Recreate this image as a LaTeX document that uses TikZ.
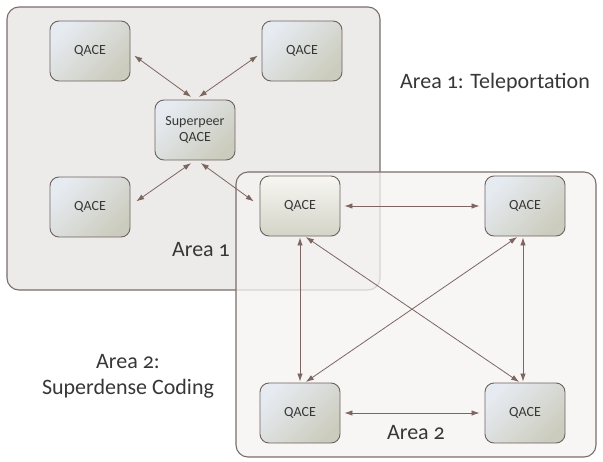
\documentclass[tikz,border=0pt]{standalone}
\usepackage{fontspec}
\setmainfont{Carlito}[Numbers=OldStyle]
\usetikzlibrary{arrows.meta,positioning}
\definecolor{arealine}{RGB}{122,110,108}
\definecolor{areaone}{RGB}{237,235,233}
\definecolor{areatwo}{RGB}{245,244,242}
\definecolor{peerline}{RGB}{110,98,96}
\definecolor{peertop}{RGB}{230,235,241}
\definecolor{peerbot}{RGB}{204,204,190}
\definecolor{peerwarm}{RGB}{248,246,242}
\definecolor{linkcol}{RGB}{125,102,96}
\definecolor{txtcol}{RGB}{55,55,55}

\begin{document}
\begin{tikzpicture}[
  x=1pt,
  y=-1pt,
  area/.style={
    draw=arealine,
    line width=1.1pt,
    rounded corners=12pt
  },
  qace/.style={
    draw=peerline,
    line width=.9pt,
    rounded corners=9pt,
    minimum width=80pt,
    minimum height=60pt,
    top color=peertop,
    bottom color=peerbot,
    shading angle=45,
    align=center,
    text=txtcol,
    font=\fontsize{14}{16}\selectfont
  },
  link/.style={
    {Latex[length=8pt,width=5.5pt]}-{Latex[length=8pt,width=5.5pt]},
    linkcol,
    line width=.8pt,
    shorten <=1pt,
    shorten >=1pt
  },
  arealabel/.style={text=txtcol,align=center,font=\fontsize{22}{26}\selectfont}
]
\useasboundingbox[fill=white] (0,0) rectangle (603,461);

% the two areas, the second one lies over the first
\draw[area,fill=areaone] (7,7) rectangle (380,290);
\draw[area,fill=areatwo,fill opacity=.75] (236,172) rectangle (596,457);

% area 1
\node[qace] (tl) at (90,51) {QACE};
\node[qace] (tr) at (302,51) {QACE};
\node[qace] (sp) at (195,130) {Superpeer\\QACE};
\node[qace] (bl) at (90,207) {QACE};

% area 2
\node[qace,top color=peerwarm,bottom color=peerbot!85] (a) at (300,206) {QACE};
\node[qace] (b) at (525,206) {QACE};
\node[qace] (c) at (300,413) {QACE};
\node[qace] (d) at (525,413) {QACE};

\node[arealabel] (areaonelbl) at (201,250) {Area 1};
\node[arealabel] (areatwolbl) at (416,433) {Area 2};
\node[arealabel] (teleport) at (495,83) {Area 1: Teleportation};
\node[arealabel] (superdense) at (128,376) {Area 2:\\Superdense Coding};

% superpeer links
\draw[link] ([xshift=3pt,yshift=-4pt]tl.east) -- ([xshift=-3pt,yshift=2pt]sp.north);
\draw[link] ([xshift=-3pt,yshift=-4pt]tr.west) -- ([xshift=3pt,yshift=2pt]sp.north);
\draw[link] ([xshift=5pt,yshift=5pt]bl.east) -- ([xshift=-3pt,yshift=-2pt]sp.south);
\draw[link] ([xshift=5pt,yshift=-2pt]sp.south) -- ([xshift=-5pt,yshift=4pt]a.west);

% full mesh of area 2
\draw[link] ([xshift=3pt]a.east) -- ([xshift=-4pt]b.west);
\draw[link] ([xshift=3pt]c.east) -- ([xshift=-4pt]d.west);
\draw[link] (a.south) -- (c.north);
\draw[link] ([xshift=-2pt]b.south) -- ([xshift=-2pt]d.north);
\draw[link] ([xshift=5pt]a.south) -- ([xshift=-5pt]d.north);
\draw[link] ([xshift=-7pt]b.south) -- ([xshift=5pt]c.north);
\end{tikzpicture}
\end{document}
